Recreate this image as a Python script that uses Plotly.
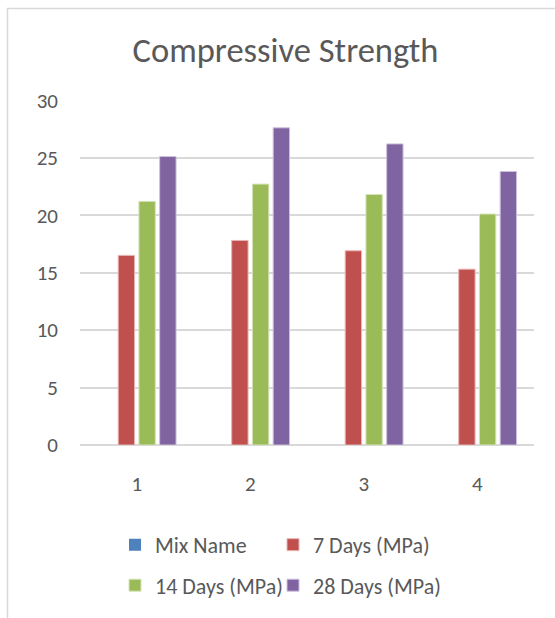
import plotly.graph_objects as go

# Compressive strength results per mix
mixes = ["1", "2", "3", "4"]
mix_name = [0, 0, 0, 0]
days_7 = [16.5, 17.8, 16.9, 15.3]
days_14 = [21.2, 22.7, 21.8, 20.1]
days_28 = [25.1, 27.6, 26.2, 23.8]
y_ticks = [0, 5, 10, 15, 20, 25, 30]

W, H = 555, 618
L, R, T, B = 80, 21, 100, 169
TEXT = "#595959"
GRID = "#D9D9D9"
FONT = "Calibri, Lato, sans-serif"

pw = W - L - R
ph = H - T - B


def px_x(p):
    return (p - L) / pw


def px_y(p):
    return (H - B - p) / ph


# name, values, fill, edge, legend id, legend left (px), legend row centre (px)
series = [
    ("Mix Name", mix_name, "#4F81BD", "#4F81BD", "legend", 115, 550),
    ("7 Days (MPa)", days_7, "#C0504D", "#E8B4B3", "legend2", 273, 550),
    ("14 Days (MPa)", days_14, "#9BBB59", "#D5E4B8", "legend3", 115, 591),
    ("28 Days (MPa)", days_28, "#8064A2", "#CDC1DC", "legend4", 273, 591),
]

fig = go.Figure()
legends = {}
for name, vals, color, edge, leg, lx, ly in series:
    fig.add_trace(go.Bar(
        x=mixes, y=vals, name=name, legend=leg,
        marker=dict(color=color,
                    line=dict(color=edge, width=0 if name == "Mix Name" else 1)),
    ))
    legends[leg] = dict(
        x=px_x(lx), y=px_y(ly), orientation="h",
        xanchor="left", yanchor="middle",
        font=dict(family=FONT, size=22, color=TEXT),
        bgcolor="rgba(0,0,0,0)",
    )

fig.update_layout(
    width=W, height=H,
    margin=dict(l=L, r=R, t=T, b=B),
    paper_bgcolor="white", plot_bgcolor="white",
    barmode="group", bargap=0.269, bargroupgap=0.21,
    title=dict(text="Compressive Strength", x=285.5 / W, xref="container",
               y=1 - 50 / H, yref="container", xanchor="center", yanchor="middle",
               font=dict(family=FONT, size=34.5, color=TEXT)),
    showlegend=True,
    xaxis=dict(type="category", showgrid=False, showline=False, zeroline=False,
               ticks="", tickfont=dict(family=FONT, size=21, color=TEXT),
               ticklabelstandoff=24),
    yaxis=dict(range=[0, 30.02], tickvals=y_ticks, showgrid=True, gridcolor=GRID,
               gridwidth=1.5, zeroline=True, zerolinecolor=GRID, zerolinewidth=1.5,
               showline=False, ticks="",
               tickfont=dict(family=FONT, size=21, color=TEXT),
               ticklabelstandoff=21),
    shapes=[dict(type="rect", xref="paper", yref="paper",
                 x0=px_x(7.5), x1=px_x(W + 10), y0=px_y(H + 10), y1=px_y(7.5),
                 line=dict(color=GRID, width=1.5), fillcolor="rgba(0,0,0,0)",
                 layer="below")],
    **legends,
)

fig.write_html("out.html")
